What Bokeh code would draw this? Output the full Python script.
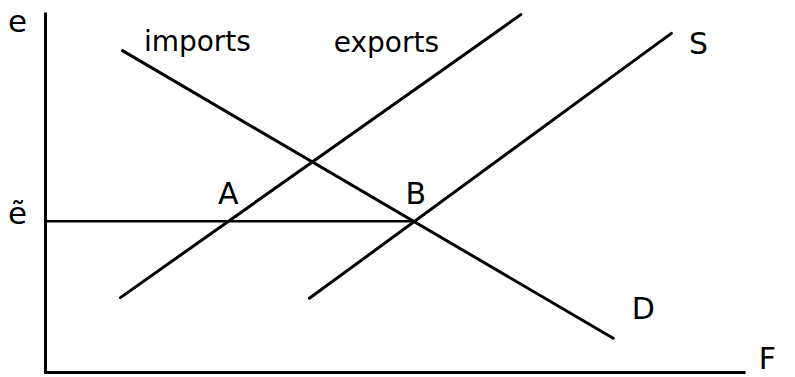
from bokeh.plotting import figure
from bokeh.models import Range1d
from bokeh.core.properties import value
from bokeh.embed import file_html
from bokeh.resources import INLINE

# --- data (abstract units: F on x, e on y) ---
axis_x = [0.0, 0.0, 10.0]
axis_y = [10.0, 0.0, 0.0]

imports_x = [1.10, 8.11]
imports_y = [8.94, 0.95]

exports_x = [1.07, 6.79]
exports_y = [2.08, 9.94]

supply_x = [3.77, 8.94]
supply_y = [2.06, 9.42]

e_tilde = 4.20
e_tilde_end = 5.27

label_text = ["imports", "exports", "A", "B", "S", "D"]
label_x = [2.17, 4.87, 2.61, 5.29, 9.33, 8.54]
label_y = [9.20, 9.18, 4.98, 4.98, 9.15, 1.79]

axis_label_text = ["e", "ẽ"]
axis_label_x = [-0.40, -0.40]
axis_label_y = [9.75, 4.43]

F_label_x = 10.19
F_label_y = 0.40

p = figure(width=795, height=377, output_backend="svg", toolbar_location=None,
           x_range=Range1d(-0.643, 10.714), y_range=Range1d(-0.139, 10.333),
           min_border=0, background_fill_color="white", border_fill_color="white")
p.axis.visible = False
p.grid.visible = False
p.outline_line_color = None

# axes
p.line(axis_x, axis_y, line_color="black", line_width=3, line_join="miter")

# horizontal e-tilde line
p.line([0.0, e_tilde_end], [e_tilde, e_tilde], line_color="black", line_width=2.6)

# curves
for xs, ys in [(imports_x, imports_y), (exports_x, exports_y), (supply_x, supply_y)]:
    p.line(xs, ys, line_color="black", line_width=3, line_cap="round")

font = value("DejaVu Sans")
p.text(x=label_x[:2], y=label_y[:2], text=label_text[:2], text_font=font,
       text_font_size=value("28px"), text_align="center", text_baseline="alphabetic",
       text_color="black")
p.text(x=label_x[2:], y=label_y[2:], text=label_text[2:], text_font=font,
       text_font_size=value("30px"), text_align="center", text_baseline="alphabetic",
       text_color="black")
p.text(x=axis_label_x, y=axis_label_y, text=axis_label_text, text_font=font,
       text_font_size=value("31px"), text_align="center", text_baseline="alphabetic",
       text_color="black")
p.text(x=[F_label_x], y=[F_label_y], text=["F"], text_font=font,
       text_font_size=value("30px"), text_align="left", text_baseline="alphabetic",
       text_color="black")

open("out.html", "w").write(file_html(p, INLINE))
